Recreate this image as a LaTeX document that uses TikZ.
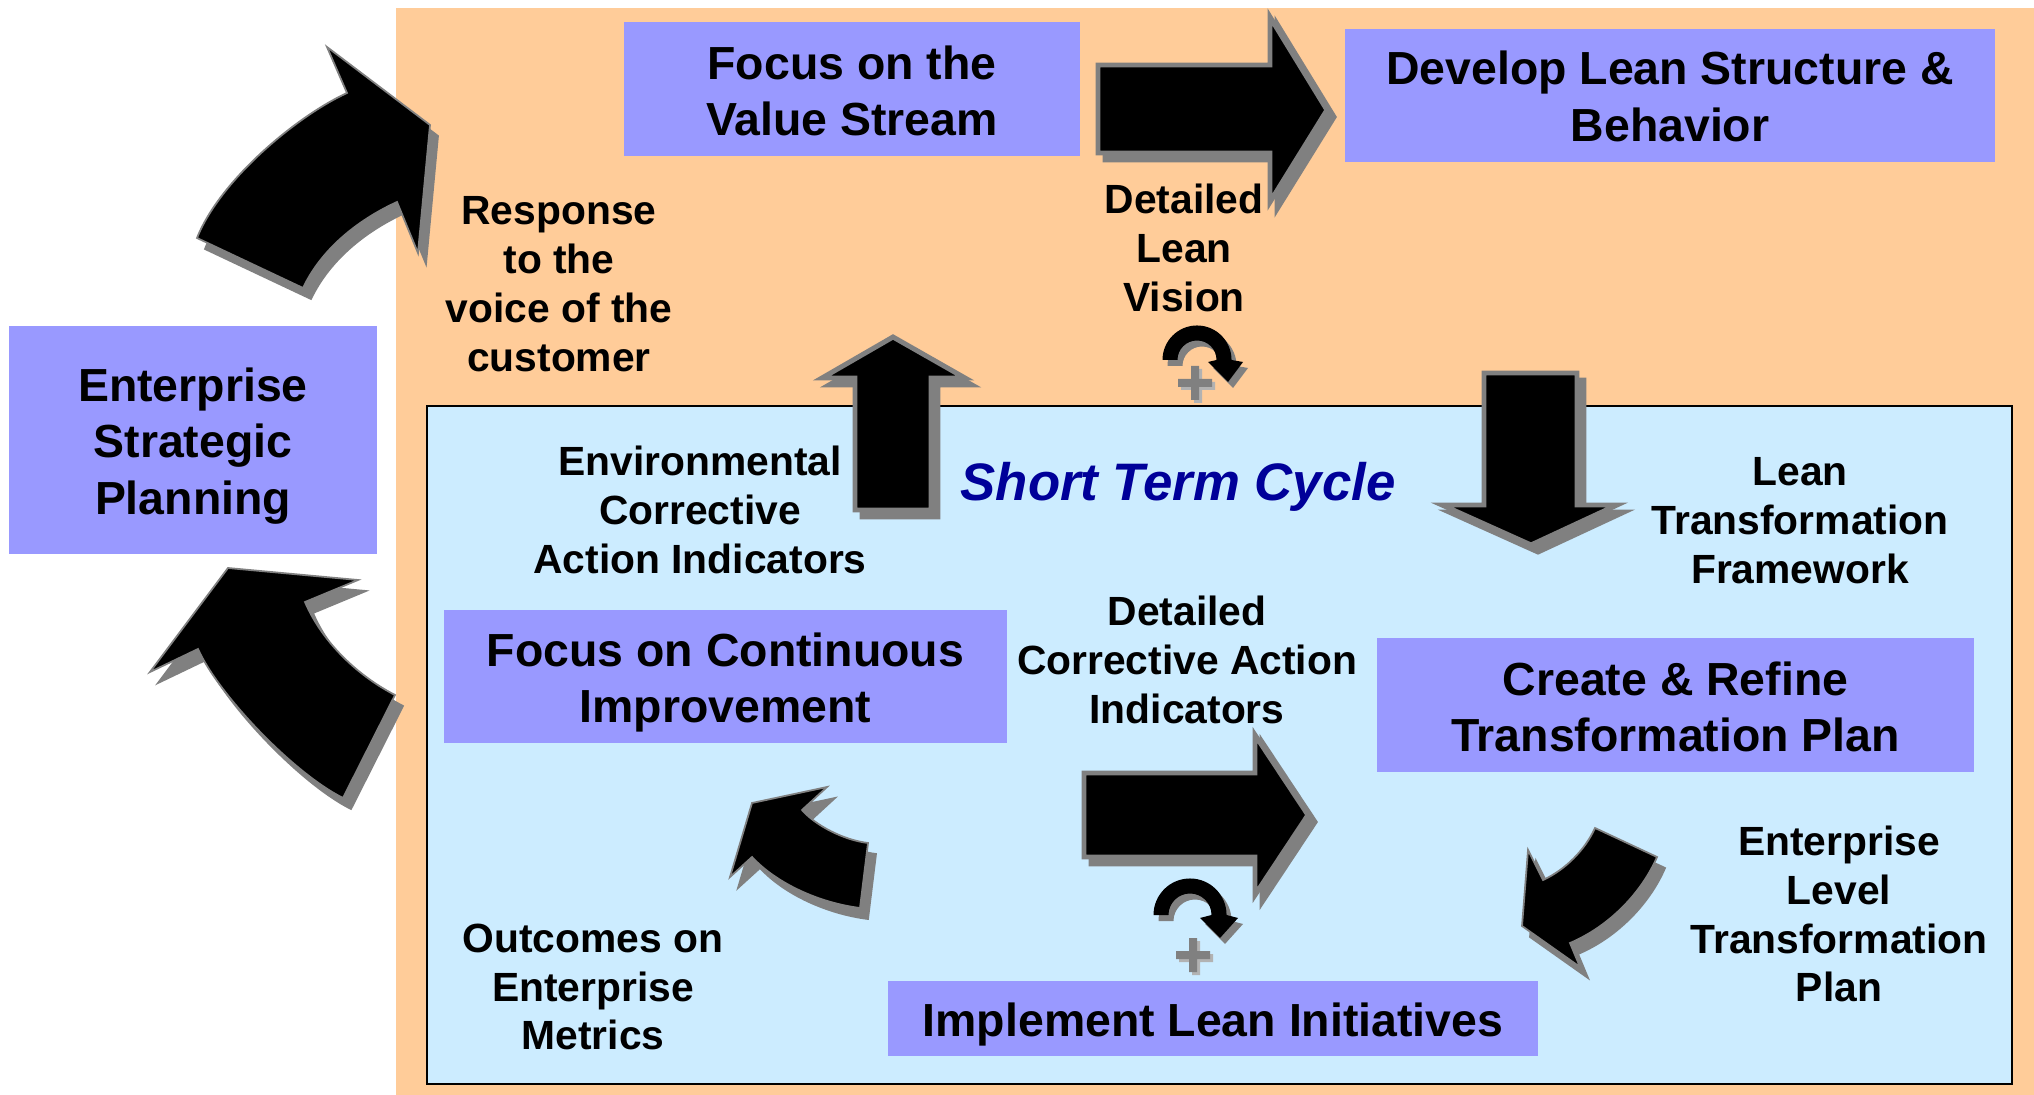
\documentclass[tikz,border=0pt]{standalone}
\usepackage{fontspec}
\setmainfont{Liberation Sans}
\definecolor{orangebg}{HTML}{FFCC99}
\definecolor{bluebg}{HTML}{CCECFF}
\definecolor{boxblue}{HTML}{9999FF}
\definecolor{arrowgray}{HTML}{808080}
\definecolor{plusshade}{HTML}{B2B2B2}
\definecolor{stcblue}{HTML}{000099}
\newcommand\boxfont{\fontsize{13.2}{16}\selectfont\bfseries}
\newcommand\lblfont{\fontsize{11.6}{13.9}\selectfont\bfseries}
\newcommand\drawshadowed[3]{%
  \path[#1] #3;
  \path[#2] #3;}
\tikzset{
  box/.style={fill=boxblue, inner sep=0pt},
  boxtext/.style={align=center, font=\boxfont, inner sep=0pt},
  lbl/.style={align=center, font=\lblfont, inner sep=0pt},
  bigarrow/.style={fill=black, draw=arrowgray, line width=1.4pt, line join=miter},
  bigshadow/.style={fill=arrowgray, draw=arrowgray, line width=1.4pt, line join=miter, shift={(7,7)}},
  curvearrow/.style={fill=black, draw=arrowgray, line width=0.5pt, line join=miter},
  curveshadow/.style={fill=arrowgray, draw=arrowgray, line width=0.5pt, line join=miter, shift={(8,11)}},
  smallarrow/.style={fill=black},
  smallshadow/.style={fill=arrowgray, shift={(5,6)}},
}
\begin{document}
\begin{tikzpicture}[x=0.01cm, y=-0.01cm]
\useasboundingbox (0,0) rectangle (2034,1095);
\fill[white] (0,0) rectangle (2034,1095);
% backgrounds
\fill[orangebg] (396,8) rectangle (2034,1095);
\draw[fill=bluebg, line width=0.8pt] (427,406) rectangle (2012,1084);

% boxes
\node[box, minimum width=4.56cm, minimum height=1.34cm] (fvs) at (852,89) {};
\node[box, minimum width=6.50cm, minimum height=1.33cm] (dev) at (1670,95.5) {};
\node[box, minimum width=3.68cm, minimum height=2.28cm] (esp) at (193,440) {};
\node[box, minimum width=5.63cm, minimum height=1.33cm] (fci) at (725.5,676.5) {};
\node[box, minimum width=5.97cm, minimum height=1.34cm] (crt) at (1675.5,705) {};
\node[box, minimum width=6.50cm, minimum height=0.75cm] (imp) at (1213,1018.5) {};
\node[boxtext] (fvs-t) at ([shift={(0,2)}]fvs.center) {Focus on the\\Value Stream};
\node[boxtext] (dev-t) at ([shift={(0,1)}]dev.center) {Develop Lean Structure \&\\Behavior};
\node[boxtext] (esp-t) at ([shift={(0,6)}]esp.center) {Enterprise\\Strategic\\Planning};
\node[boxtext] (fci-t) at ([shift={(0,6)}]fci.center) {Focus on Continuous\\Improvement};
\node[boxtext] (crt-t) at ([shift={(0,2)}]crt.center) {Create \& Refine\\Transformation Plan};
\node[boxtext] (imp-t) at ([shift={(0,6)}]imp.center) {Implement Lean Initiatives};

% straight arrows
\drawshadowed{bigshadow}{bigarrow}{(1098,65) -- (1270,65) -- (1270,17) -- (1327,110) -- (1270,202) -- (1270,153) -- (1098,153) -- cycle}
\drawshadowed{bigshadow}{bigarrow}{(855,510) -- (855,378) -- (822,378) -- (893,337) -- (965,378) -- (931,378) -- (931,510) -- cycle}
\drawshadowed{bigshadow}{bigarrow}{(1484,373) -- (1577,373) -- (1577,505) -- (1617,505) -- (1531,545) -- (1442,505) -- (1484,505) -- cycle}
\drawshadowed{bigshadow}{bigarrow}{(1084,773) -- (1255,773) -- (1255,735) -- (1308,815) -- (1255,895) -- (1255,857) -- (1084,857) -- cycle}

% curved arrows
\drawshadowed{curveshadow}{curvearrow}{(197,238) -- (303,288) .. controls (323,246) and (362,218) .. (397,202) -- (418,253) -- (430,125) -- (327,47) -- (347,93) .. controls (297,116) and (220,180) .. cycle}
\drawshadowed{curveshadow}{curvearrow}{(228,568) -- (358,580) -- (305,602) .. controls (323,644) and (360,677) .. (395,695) -- (343,798) .. controls (293,773) and (218,694) .. (198,649) -- (150,672) -- cycle}
\drawshadowed{curveshadow}{curvearrow}{(752,803) -- (827,787) -- (802,810) .. controls (815,825) and (843,840) .. (868,843) -- (860,908) .. controls (820,903) and (777,884) .. (752,857) -- (730,877) -- cycle}
\drawshadowed{curveshadow}{curvearrow}{(1595,828) -- (1657,857) .. controls (1642,892) and (1610,926) .. (1570,943) -- (1580,967) -- (1522,926) -- (1528,850) -- (1543,880) .. controls (1565,870) and (1585,850) .. cycle}

% small circular arrows
\drawshadowed{smallshadow}{smallarrow}{(1162.5,360) arc[start angle=180, end angle=0, radius=0.345cm] -- (1243,362) -- (1228,382) -- (1208,362) -- (1216.5,360) arc[start angle=0, end angle=180, radius=0.195cm] -- cycle}
\drawshadowed{smallshadow}{smallarrow}{(1153.5,915) arc[start angle=180, end angle=0, radius=0.365cm] -- (1238,918) -- (1220,938) -- (1200,918) -- (1211.5,915) arc[start angle=0, end angle=180, radius=0.215cm] -- cycle}
% plus signs
\fill[plusshade] (1181,382) rectangle (1215,390) (1194,369) rectangle (1202,403);
\fill[arrowgray] (1178,379) rectangle (1212,387) (1191,366) rectangle (1199,400);
\fill[plusshade] (1179,954) rectangle (1213,962) (1192,941) rectangle (1200,975);
\fill[arrowgray] (1176,951) rectangle (1210,959) (1189,938) rectangle (1197,972);

% labels
\node[lbl] (resp) at (559,284) {Response\\to the\\voice of the\\customer};
\node[lbl] (dlv) at (1184,248) {Detailed\\Lean\\Vision};
\node[lbl] (env) at (700,510) {Environmental\\Corrective\\Action Indicators};
\node[lbl] (ltf) at (1800,521) {Lean\\Transformation\\Framework};
\node[lbl] (dca) at (1187,660) {Detailed\\Corrective Action\\Indicators};
\node[lbl] (elt) at (1839,914) {Enterprise\\Level\\Transformation\\Plan};
\node[lbl] (out) at (593,987) {Outcomes on\\Enterprise\\Metrics};
\node[font=\fontsize{15}{18}\selectfont\bfseries\itshape, text=stcblue, inner sep=0pt] (stc) at (1178,487) {Short Term Cycle};
\end{tikzpicture}
\end{document}
